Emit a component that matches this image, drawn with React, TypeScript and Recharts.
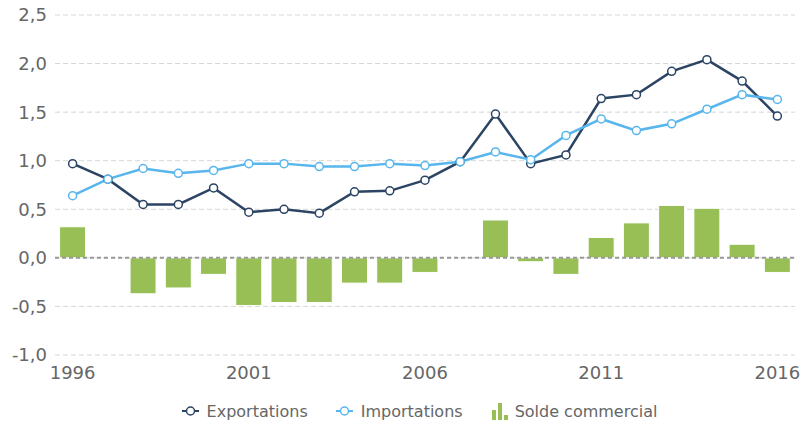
import React from "react";
import { ComposedChart, Bar, Line, XAxis, YAxis, CartesianGrid, ReferenceLine, Legend } from "recharts";

const years = ["1996","1997","1998","1999","2000","2001","2002","2003","2004","2005","2006","2007","2008","2009","2010","2011","2012","2013","2014","2015","2016"];
const exportations = [0.97,0.81,0.55,0.55,0.72,0.47,0.50,0.46,0.68,0.69,0.80,0.99,1.48,0.97,1.06,1.64,1.68,1.92,2.04,1.82,1.46];
const importations = [0.64,0.81,0.92,0.87,0.90,0.97,0.97,0.94,0.94,0.97,0.95,0.99,1.09,1.01,1.26,1.43,1.31,1.38,1.53,1.68,1.63];
const solde = [0.32,0,-0.37,-0.31,-0.17,-0.49,-0.46,-0.46,-0.26,-0.26,-0.15,0,0.39,-0.04,-0.17,0.21,0.36,0.54,0.51,0.14,-0.15];
const yTicks = [-1,-0.5,0,0.5,1,1.5,2,2.5];

const data = years.map((y, i) => ({ year: y, exp: exportations[i], imp: importations[i], solde: solde[i] }));

const DARK = "#2b4463";
const LIGHT = "#58b6ec";
const GREEN = "#97bf55";
const FONT = "'DejaVu Sans', sans-serif";

const fmt = (v: number) => v.toFixed(1).replace(".", ",");

const LegendContent = () => (
  <div style={{ display: "flex", justifyContent: "center", alignItems: "center", fontFamily: FONT, fontSize: 16, color: "#666", height: 24, paddingLeft: 44 }}>
    <span style={{ display: "flex", alignItems: "center", marginRight: 28 }}>
      <svg width={17} height={12} style={{ marginRight: 8 }}>
        <line x1={0} y1={6} x2={17} y2={6} stroke={DARK} strokeWidth={2} />
        <circle cx={8.5} cy={6} r={4} fill="#fff" stroke={DARK} strokeWidth={1.5} />
      </svg>
      Exportations
    </span>
    <span style={{ display: "flex", alignItems: "center", marginRight: 28 }}>
      <svg width={17} height={12} style={{ marginRight: 8 }}>
        <line x1={0} y1={6} x2={17} y2={6} stroke={LIGHT} strokeWidth={2} />
        <circle cx={8.5} cy={6} r={4} fill="#fff" stroke={LIGHT} strokeWidth={1.5} />
      </svg>
      Importations
    </span>
    <span style={{ display: "flex", alignItems: "center" }}>
      <svg width={18} height={18} style={{ marginRight: 6 }}>
        <rect x={1} y={8} width={4} height={10} fill={GREEN} />
        <rect x={7} y={1} width={4} height={17} fill={GREEN} />
        <rect x={13} y={13} width={4} height={5} fill={GREEN} />
      </svg>
      Solde commercial
    </span>
  </div>
);

export default function App() {
  return (
    <div style={{ position: "absolute", left: 0, top: 0, background: "#fff" }}>
      <ComposedChart width={802} height={423} data={data} margin={{ top: 15, right: 7, left: 0, bottom: 0 }} barCategoryGap="13%">
        <CartesianGrid vertical={false} stroke="#d6d6d6" strokeDasharray="5 3" />
        <XAxis dataKey="year" interval={4} axisLine={false} tickLine={false} height={44} tickMargin={5}
          tick={{ fill: "#666", fontSize: 18, fontFamily: FONT }} />
        <YAxis width={55} domain={[-1, 2.5]} ticks={yTicks} tickFormatter={fmt} axisLine={false} tickLine={false}
          tick={{ fill: "#666", fontSize: 18, fontFamily: FONT }} />
        <Bar dataKey="solde" name="Solde commercial" fill={GREEN} stroke="#fff" strokeWidth={1} isAnimationActive={false} />
        <ReferenceLine y={0} stroke="#999" strokeWidth={2} strokeDasharray="4 3" />
        <Line dataKey="exp" name="Exportations" stroke={DARK} strokeWidth={2.5} dot={{ r: 4, fill: "#fff", stroke: DARK, strokeWidth: 1.5 }} isAnimationActive={false} />
        <Line dataKey="imp" name="Importations" stroke={LIGHT} strokeWidth={2.5} dot={{ r: 4, fill: "#fff", stroke: LIGHT, strokeWidth: 1.5 }} isAnimationActive={false} />
        <Legend verticalAlign="bottom" height={24} content={<LegendContent />} />
      </ComposedChart>
    </div>
  );
}
